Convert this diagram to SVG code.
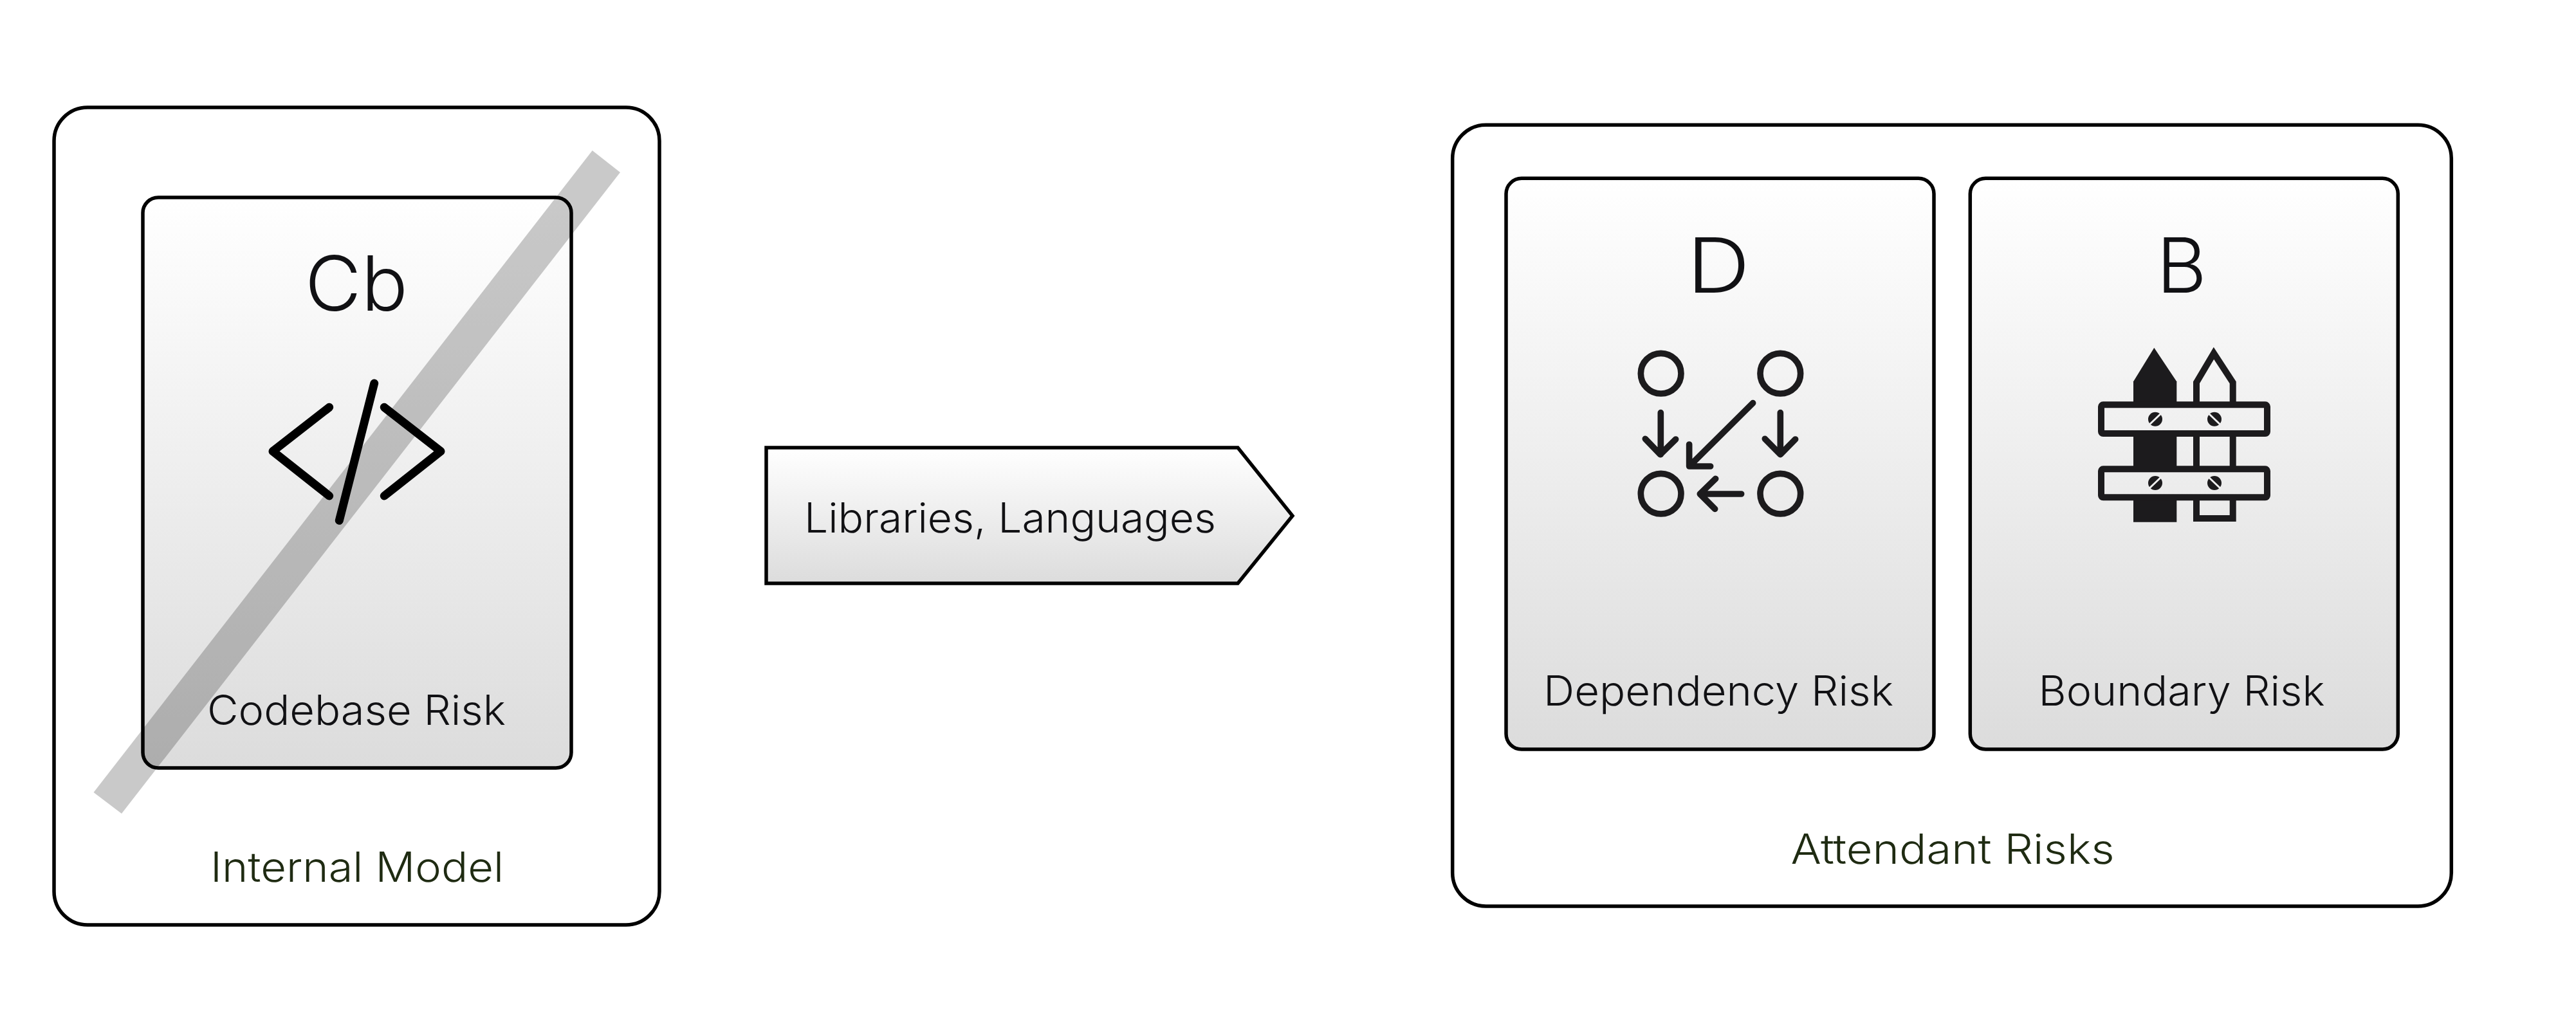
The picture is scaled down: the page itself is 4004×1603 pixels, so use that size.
<svg xmlns="http://www.w3.org/2000/svg" width="4004" height="1603" viewBox="0 0 4004 1603">
<style>
text{font-family:"Inter","Noto Sans","Liberation Sans",sans-serif;font-weight:300;fill:#111114;text-anchor:middle}
.box{fill:#fff;stroke:#000;stroke-width:5.5}
.card{stroke:#000;stroke-width:5.5}
.lab{font-size:64px}
.sym{font-size:118px}
.cap{font-size:64px;fill:#1f2b12}
.ic{fill:none;stroke:#1c1b1d;stroke-linecap:round;stroke-linejoin:round}
.fn{fill:#1c1b1d}
</style>
<defs>
<linearGradient id="g1" x1="0" y1="0" x2="0" y2="1"><stop offset="0" stop-color="#fff"/><stop offset="1" stop-color="#dcdcdc"/></linearGradient>
<linearGradient id="gB" gradientUnits="userSpaceOnUse" x1="0" y1="277" x2="0" y2="1165"><stop offset="0" stop-color="#fff"/><stop offset="1" stop-color="#dcdcdc"/></linearGradient>
</defs>
<rect width="4004" height="1603" fill="#fff"/>
<g id="internal-model">
<rect class="box" x="84" y="167" width="941" height="1271" rx="52"/>
<text class="cap" x="555" y="1371" textLength="456" lengthAdjust="spacingAndGlyphs">Internal Model</text>
</g>
<g id="codebase-risk">
<rect class="card" fill="url(#g1)" x="222" y="307" width="666" height="887" rx="24"/>
<text class="sym" x="554" y="483" textLength="160" lengthAdjust="spacingAndGlyphs">Cb</text>
<text class="lab" x="554" y="1127" textLength="464" lengthAdjust="spacingAndGlyphs">Codebase Risk</text>
<path fill="none" stroke="#000" stroke-width="13" stroke-linecap="round" stroke-linejoin="round" d="M511.700 633.300L424 701.700L511.700 771M581.700 596L527.300 809.300M597.300 633.300L685 701.700L597.300 771"/>
<polygon points="920.700,234 964,268 189,1265 145.500,1232" fill="#000" fill-opacity=".21"/>
</g>
<g id="connectors">
<g id="libraries-languages">
<path d="M1191 696H1924L2009 802L1924 907H1191Z" fill="url(#g1)" stroke="#000" stroke-width="5.500"/>
<text class="lab" x="1570" y="828" textLength="640" lengthAdjust="spacingAndGlyphs">Libraries, Languages</text>
</g>
</g>
<g id="attendant-risks">
<rect class="box" x="2257.700" y="194.300" width="1552.600" height="1214.700" rx="52"/>
<text class="cap" x="3035" y="1343" textLength="503" lengthAdjust="spacingAndGlyphs">Attendant Risks</text>
</g>
<g id="dependency-risk">
<rect class="card" fill="url(#gB)" x="2341" y="277.300" width="665" height="887.700" rx="24"/>
<text class="sym" x="2671" y="455" textLength="98" lengthAdjust="spacingAndGlyphs">D</text>
<text class="lab" x="2671" y="1097" textLength="544" lengthAdjust="spacingAndGlyphs">Dependency Risk</text>
<g transform="translate(2480 500) scale(.3333)" class="ic" stroke-width="29">
<circle cx="305" cy="242" r="94"/><circle cx="862" cy="242" r="94"/><circle cx="305" cy="803" r="94"/><circle cx="862" cy="803" r="94"/>
<path d="M304 425V620M232 547L302 620L374 549M862 425V620M790 547L862 620L932 549M734 380L437 675M437 573V675H536M680 804H487M560 733L487 804L557 874"/>
</g>
</g>
<g id="boundary-risk">
<rect class="card" fill="url(#gB)" x="3062.300" y="277.300" width="665" height="887.700" rx="24"/>
<text class="sym" x="3391" y="455" textLength="78" lengthAdjust="spacingAndGlyphs">B</text>
<text class="lab" x="3391" y="1097" textLength="445" lengthAdjust="spacingAndGlyphs">Boundary Risk</text>
<polygon class="fn" points="3316,593.300 3348.300,540.700 3383.300,593.300 3383.300,811.700 3316,811.700"/>
<polygon points="3414,594.700 3441,549.300 3470.700,594.700 3470.700,806 3414,806" fill="none" stroke="#1c1b1d" stroke-width="10"/>
<rect x="3266" y="629.300" width="258" height="44.700" rx="3" fill="url(#gB)" stroke="#1c1b1d" stroke-width="10"/>
<rect x="3266" y="729.300" width="258" height="44" rx="3" fill="url(#gB)" stroke="#1c1b1d" stroke-width="10"/>
<circle class="fn" cx="3350" cy="651.700" r="11"/><circle class="fn" cx="3442" cy="651.700" r="11"/><circle class="fn" cx="3350" cy="751" r="11"/><circle class="fn" cx="3442" cy="751" r="11"/>
<path fill="none" stroke="#efefef" stroke-width="3" d="M3340 661L3360 642M3432 642L3452 661M3340 760L3360 741M3432 741L3452 760"/>
</g>
</svg>
